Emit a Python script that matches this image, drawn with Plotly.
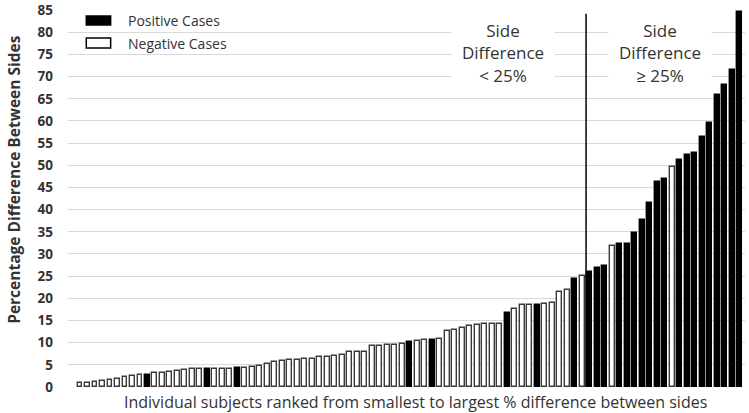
import plotly.graph_objects as go

# Data (ranked subjects)
values = [0.8, 1.0, 1.1, 1.3, 1.6, 1.8, 2.3, 2.5, 2.7, 2.7,
          3.1, 3.2, 3.4, 3.5, 3.8, 4.0, 4.1, 4.1, 4.1, 4.1,
          4.1, 4.3, 4.3, 4.4, 4.8, 5.2, 5.7, 5.9, 6.2, 6.2,
          6.4, 6.4, 6.7, 6.8, 7.0, 7.3, 7.8, 7.8, 7.9, 9.2,
          9.2, 9.4, 9.5, 9.6, 10.1, 10.3, 10.7, 10.7, 10.9, 12.6,
          12.8, 13.2, 13.8, 13.9, 14.1, 14.2, 14.2, 16.7, 17.5, 18.4,
          18.4, 18.4, 18.8, 19.0, 21.4, 21.8, 24.3, 25.0, 25.9, 26.8,
          27.2, 31.7, 32.3, 32.3, 34.7, 37.7, 41.4, 46.2, 46.9, 49.7,
          51.2, 52.4, 52.8, 56.4, 59.6, 65.9, 68.1, 71.4, 84.6]
# 1 = positive case (black), 0 = negative case (white)
positive = [0, 0, 0, 0, 0, 0, 0, 0, 0, 1,
            0, 0, 0, 0, 0, 0, 0, 1, 0, 0,
            0, 1, 0, 0, 0, 0, 0, 0, 0, 0,
            0, 0, 0, 0, 0, 0, 0, 0, 0, 0,
            0, 0, 0, 0, 1, 0, 0, 1, 0, 0,
            0, 0, 0, 0, 0, 0, 0, 1, 0, 0,
            0, 1, 0, 0, 0, 0, 1, 0, 1, 1,
            1, 0, 1, 1, 1, 1, 1, 1, 1, 0,
            1, 1, 1, 1, 1, 1, 1, 1, 1]
subjects = list(range(1, len(values) + 1))
y_tick_start, y_tick_step = 0, 5
threshold_position = 68.5

fill = ["black" if p else "white" for p in positive]
edge = ["black" if p else "#3a3a3a" for p in positive]

fig = go.Figure()
fig.add_trace(go.Bar(
    x=subjects, y=values, width=0.66,
    marker=dict(color=fill, line=dict(color=edge, width=1.4)),
    showlegend=False, hoverinfo="skip"))

FONT = "Open Sans"
TXT = "#333333"
PT = 10     # plot top px
PH = 377    # plot height px


def py(pix):
    return 1 - (pix - PT) / PH


fig.update_layout(
    width=749, height=413,
    margin=dict(l=68, r=4, t=PT, b=26, autoexpand=False),
    plot_bgcolor="white", paper_bgcolor="white",
    font=dict(family=FONT, color=TXT),
    bargap=0,
    xaxis=dict(range=[-0.6, 89.7], showgrid=False, zeroline=False,
               showticklabels=False, showline=False, ticks="",
               automargin=False),
    yaxis=dict(range=[0, 85.02], tickmode="linear", tick0=y_tick_start,
               dtick=y_tick_step, showgrid=True, automargin=False,
               gridcolor="#d9d9d9", gridwidth=1, zeroline=False,
               showline=False, ticks="", ticklabelstandoff=14,
               ticklabeloverflow="allow",
               tickfont=dict(family=FONT, size=13.5, color=TXT, weight="bold")),
)

# threshold line
fig.add_shape(type="line", xref="x", yref="y",
              x0=threshold_position, x1=threshold_position, y0=0, y1=84.2,
              line=dict(color="black", width=1.5))

# zone labels
for xc, label in [(0.642, "Side<br>Difference<br>&lt; 25%"),
                  (0.875, "Side<br>Difference<br>≥ 25%")]:
    fig.add_annotation(xref="paper", yref="paper", x=xc, y=py(13),
                       xanchor="center", yanchor="top",
                       text=label, showarrow=False, align="center",
                       bgcolor="white", width=100, height=76,
                       font=dict(family=FONT, size=17, color=TXT))

# manual legend
for (top, bot, col, lab) in [(16, 25, "black", "Positive Cases"),
                             (38, 48, "white", "Negative Cases")]:
    fig.add_shape(type="rect", xref="paper", yref="paper",
                  x0=0.027, x1=0.063, y0=py(bot), y1=py(top),
                  fillcolor=col, line=dict(color="black", width=1.5))
    fig.add_annotation(xref="paper", yref="paper", x=0.086,
                       y=py((top + bot) / 2),
                       xanchor="left", yanchor="middle", text=lab,
                       showarrow=False,
                       font=dict(family=FONT, size=14, color=TXT))

# axis titles
fig.add_annotation(xref="paper", yref="paper", x=0.513, y=0, yshift=-2,
                   xanchor="center", yanchor="top", showarrow=False,
                   text="Individual subjects ranked from smallest to largest % difference between sides",
                   font=dict(family=FONT, size=16, color=TXT))
fig.add_annotation(xref="paper", yref="paper", x=-0.08, y=py(180),
                   xanchor="center", yanchor="middle", showarrow=False,
                   textangle=-90, text="<b>Percentage Difference Between Sides</b>",
                   font=dict(family=FONT, size=15.5, color=TXT))

fig.write_html("out.html")
